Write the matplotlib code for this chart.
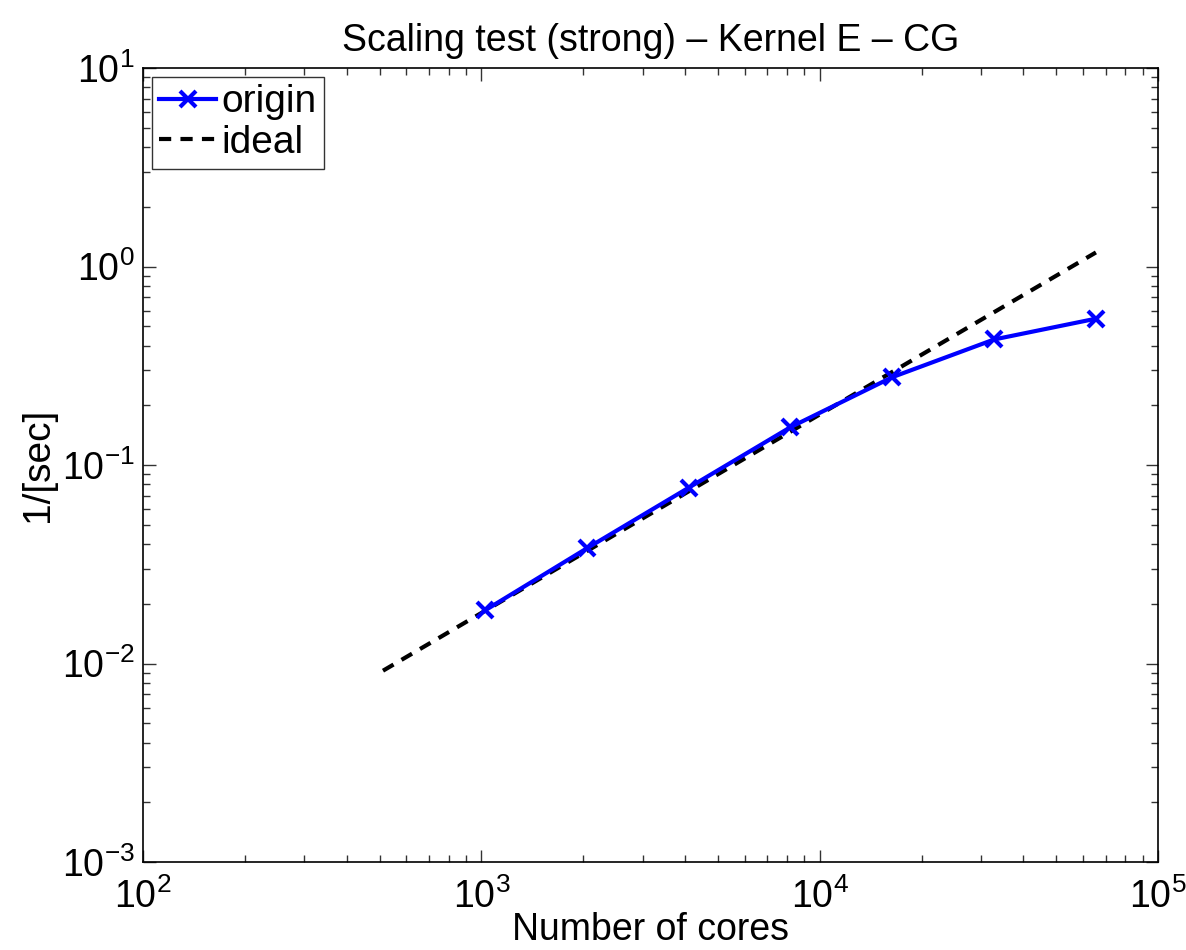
import matplotlib
matplotlib.use('Agg')
import matplotlib.pyplot as plt
from matplotlib.ticker import LogLocator, NullFormatter

plt.rcParams['font.family'] = ['Liberation Sans', 'DejaVu Sans']
plt.rcParams['mathtext.fontset'] = 'custom'
plt.rcParams['mathtext.rm'] = 'Liberation Sans'
plt.rcParams['mathtext.it'] = 'Liberation Sans:italic'
plt.rcParams['mathtext.bf'] = 'Liberation Sans:bold'

# measured throughput (1/time) vs core count
cores = [1024, 2048, 4096, 8192, 16384, 32768, 65536]
origin = [0.0185, 0.0380, 0.0768, 0.155, 0.277, 0.429, 0.546]

# ideal linear scaling reference
ideal_cores = [512, 1024, 2048, 4096, 8192, 16384, 32768, 65536]
ideal = [0.0092, 0.0184, 0.0368, 0.0736, 0.1472, 0.2944, 0.5888, 1.1776]

xticks = [1e2, 1e3, 1e4, 1e5]
xticklabels = ['$10^{2}$', '$10^{3}$', '$10^{4}$', '$10^{5}$']
yticks = [1e-3, 1e-2, 1e-1, 1e0, 1e1]
yticklabels = ['$10^{\u22123}$', '$10^{\u22122}$', '$10^{\u22121}$', '$10^{0}$', '$10^{1}$']

fig = plt.figure(figsize=(11.86, 9.5), dpi=100)
ax = fig.add_axes([0.1206, 0.0926, 0.8558, 0.8358])

ax.loglog(cores, origin, color='#0000ff', lw=3, marker='x', ms=12, mew=3,
          label='origin', zorder=3)
ax.loglog(ideal_cores, ideal, color='black', lw=3, ls=(0, (2.93, 2.22)),
          label='ideal', zorder=2)

ax.set_xlim(1e2, 1e5)
ax.set_ylim(1e-3, 1e1)
ax.set_xticks(xticks)
ax.set_xticklabels(xticklabels)
ax.set_yticks(yticks)
ax.set_yticklabels(yticklabels)
ax.xaxis.set_minor_locator(LogLocator(base=10, subs=range(2, 10)))
ax.yaxis.set_minor_locator(LogLocator(base=10, subs=range(2, 10)))
ax.xaxis.set_minor_formatter(NullFormatter())
ax.yaxis.set_minor_formatter(NullFormatter())

ax.tick_params(which='both', direction='in', top=True, right=True,
               color='#333333', labelsize=27, width=1)
ax.tick_params(which='major', length=9)
ax.tick_params(which='minor', length=5)
ax.tick_params(axis='x', which='major', pad=12)
ax.tick_params(axis='y', which='major', pad=6)
for s in ax.spines.values():
    s.set_linewidth(1.2)

ax.set_title('Scaling test (strong) \u2013 Kernel E \u2013 CG', fontsize=27, pad=12)
ax.set_xlabel('Number of cores', fontsize=27, labelpad=-3)
ax.set_ylabel('1/[sec]', fontsize=28, labelpad=4)

leg = ax.legend(loc='upper left', fontsize=28, frameon=True, fancybox=False,
                edgecolor='black', handlelength=1.45, handletextpad=0.15,
                borderpad=0.2, labelspacing=0.12, borderaxespad=0.22)
leg.get_frame().set_linewidth(1)

fig.savefig('out.png', dpi=100)
